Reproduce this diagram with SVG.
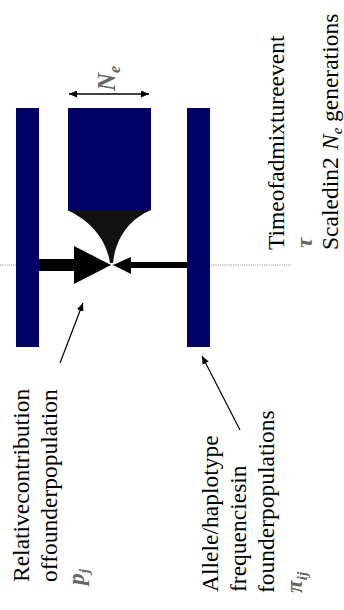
<svg xmlns="http://www.w3.org/2000/svg" width="344" height="610" viewBox="0 0 344 610">
<style>
.bar{fill:#000066}
.t{font-family:"Liberation Serif","Times New Roman",serif;font-size:23.5px;fill:#000}
.sym{font-family:"Liberation Serif","Times New Roman",serif;font-weight:bold;font-style:italic;fill:#666}
.ln{stroke:#000;fill:none}
</style>
<defs>
<marker id="ah" markerUnits="userSpaceOnUse" markerWidth="9" markerHeight="7" refX="8" refY="3.5" orient="auto-start-reverse">
<path d="M0,0 L8,3.5 L0,7 z" fill="#000"/>
</marker>
</defs>
<line x1="0" y1="265" x2="292" y2="265" stroke="#888" stroke-width="1" stroke-dasharray="1,1.2"/>
<g id="founder-left"><rect class="bar" x="16" y="108" width="23" height="239"/></g>
<g id="founder-right"><rect class="bar" x="187" y="108" width="23" height="239"/></g>
<g id="admixed"><rect class="bar" x="68" y="108" width="83" height="102"/>
<path d="M67,210 L151,210 C132,218 116,235 113,263 L110,263 C106,235 85,218 67,210 Z" fill="#111"/></g>
<g id="connectors">
<polygon points="39,259 74,259 74,246 111,265 74,284 74,271 39,271" fill="#000"/>
<polygon points="187,262 131,262 131,257 113,265 131,274 131,268 187,268" fill="#000"/>
<line class="ln" x1="69" y1="94" x2="149" y2="94" stroke-width="1.3" marker-start="url(#ah)" marker-end="url(#ah)"/>
<line class="ln" x1="60" y1="363" x2="83" y2="303" stroke-width="1.2" marker-end="url(#ah)"/>
<line class="ln" x1="240" y1="430" x2="202" y2="356" stroke-width="1.2" marker-end="url(#ah)"/>
</g>
<g id="labels" transform="rotate(-90)">
<text class="sym" x="-91" y="115" font-size="25">N<tspan dy="5" font-size="16">e</tspan></text>
<text class="t" x="-582" y="29">Relativecontribution</text>
<text class="t" x="-582" y="57">offounderpopulation</text>
<text class="sym" x="-585" y="84" font-size="23.5">p<tspan dy="5" font-size="15">j</tspan></text>
<text class="t" x="-592" y="218">Allele/haplotype</text>
<text class="t" x="-592" y="246">frequenciesin</text>
<text class="t" x="-593" y="274">founderpopulations</text>
<text class="sym" x="-593" y="302" font-size="23.5">π<tspan dy="5" font-size="15">ij</tspan></text>
<text class="t" x="-250" y="284">Timeofadmixtureevent</text>
<text class="sym" x="-248" y="312" font-size="23.5">τ</text>
<text class="t" x="-250" y="338">Scaledin2<tspan x="-150" font-style="italic">N</tspan><tspan dy="4" font-size="15" font-style="italic">e</tspan><tspan x="-122" dy="-4">generations</tspan></text>
</g>
</svg>
